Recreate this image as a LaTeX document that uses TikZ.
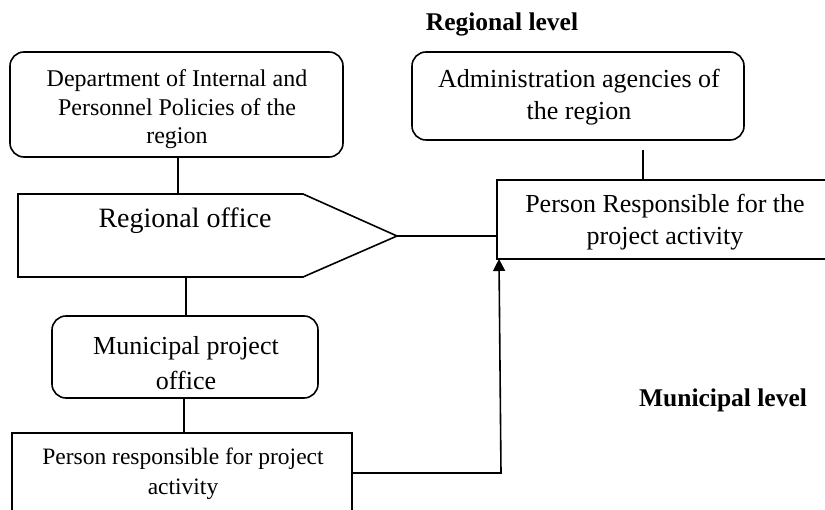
\documentclass[tikz,border=0pt]{standalone}
\usepackage{fontspec}
\setmainfont{Liberation Serif}
\usetikzlibrary{arrows.meta}
\begin{document}
\begin{tikzpicture}[x=1pt,y=-1pt,
  every node/.style={inner sep=0pt, outer sep=0pt},
  conn/.style={line width=1.6pt},
  rbox/.style={draw, line width=1.6pt, rounded corners=14pt},
  sbox/.style={draw, line width=1.6pt},
  txt/.style={align=center},
  lvl/.style={font=\fontsize{25.5}{30}\selectfont\bfseries}]
\useasboundingbox (0,0) rectangle (825,510);
\clip (0,0) rectangle (825,510);
% level titles
\node[lvl] (regl) at (502,24) {Regional level};
\node[lvl] (munl) at (723,400) {Municipal level};
% boxes
\node[rbox, minimum width=333pt, minimum height=105pt] (dept) at (176.5,104.5) {};
\node[txt, font=\fontsize{24}{28.5}\selectfont] (deptT) at (177,109.5)
  {Department of Internal and\\Personnel Policies of the\\region};
\node[rbox, minimum width=332pt, minimum height=88pt] (adm) at (578,96) {};
\node[txt, font=\fontsize{26}{32}\selectfont] (admT) at (579,97.5)
  {Administration agencies of\\the region};
\node[sbox, minimum width=340pt, minimum height=79pt] (prb) at (667,219.5) {};
\node[txt, font=\fontsize{26}{32}\selectfont] (prbT) at (665,222.5)
  {Person Responsible for the\\project activity};
\node[rbox, minimum width=266pt, minimum height=82pt] (mpo) at (185,357) {};
\node[txt, font=\fontsize{26}{35}\selectfont] (mpoT) at (186,363.5)
  {Municipal project\\office};
\node[sbox, minimum width=340pt, minimum height=80pt] (pb) at (182,473) {};
\node[txt, font=\fontsize{23.5}{30}\selectfont] (pbT) at (183,473.5)
  {Person responsible for project\\activity};
% regional office pentagon
\coordinate (roNW) at (18,194);
\coordinate (roN) at (303,194);
\coordinate (roTip) at (397,236);
\coordinate (roS) at (303,277);
\coordinate (roSW) at (18,277);
\draw[line width=1.6pt] (roNW) -- (roN) -- (roTip) -- (roS) -- (roSW) -- cycle;
\node[font=\fontsize{28}{32}\selectfont] (ro) at (185,221) {Regional office};
\coordinate (roTop) at (178,194);
\coordinate (roBot) at (186,277);
% connectors
\draw[conn] (dept.south -| roTop) -- (roTop);
\draw[conn] (roBot) -- (roBot |- mpo.north);
\draw[conn] (mpo.south -| 184,0) -- (184,433);
\draw[conn] (roTip) -- (prb.west |- roTip);
\coordinate (admLineTop) at (643,150);
\draw[conn] (admLineTop) -- (admLineTop |- prb.north);
\coordinate (bend) at (501,473);
\coordinate (arrEnd) at (499,259);
\draw[conn, -{Triangle[length=12pt,width=12pt]}] (pb.east) -- (bend) -- (arrEnd);
\end{tikzpicture}
\end{document}
